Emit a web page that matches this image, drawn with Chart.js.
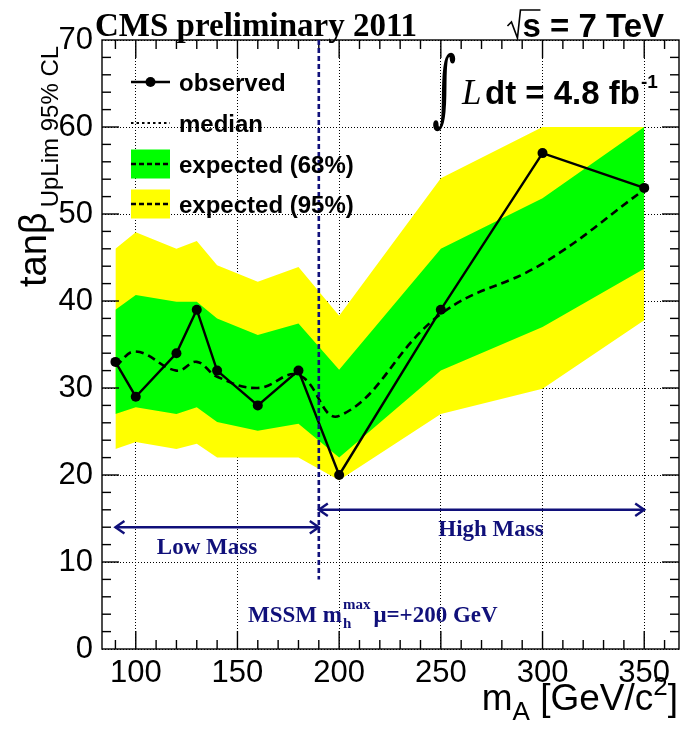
<!DOCTYPE html>
<html><head><meta charset="utf-8">
<script src="https://cdn.jsdelivr.net/npm/chart.js@4.4.1/dist/chart.umd.min.js"></script>
<style>html,body{margin:0;padding:0;background:#fff;overflow:hidden}#wrap{width:684px;height:734px;position:relative}</style>
</head><body><div id="wrap"><canvas id="c"></canvas></div>
<script>
// ---- data ----
const masses       = [90, 100, 120, 130, 140, 160, 180, 200, 250, 300, 350];
const observed     = [33, 29, 34, 39, 32, 28, 32, 20, 39, 57, 53];
const median       = [32.5, 34.2, 32.0, 33.0, 31.3, 30.0, 31.5, 26.8, 38.5, 44.3, 52.8];
const band68Upper  = [39.0, 40.7, 39.9, 39.9, 38.0, 36.1, 37.4, 32.1, 46.0, 51.8, 60.0];
const band68Lower  = [27.0, 27.8, 27.0, 27.8, 26.1, 25.1, 25.9, 22.0, 32.0, 37.0, 43.7];
const band95Upper  = [46.0, 47.9, 46.0, 46.9, 44.1, 42.2, 43.9, 38.3, 54.1, 60.0, 60.0];
const band95Lower  = [23.0, 23.8, 23.0, 23.6, 22.0, 22.0, 22.0, 19.4, 27.0, 29.9, 37.8];
const xTickValues  = [100, 150, 200, 250, 300, 350];
const yTickValues  = [0, 10, 20, 30, 40, 50, 60, 70];
const xRange       = [83.4, 367.1];
const yRange       = [0, 70];
const legendLabels = ['observed', 'median', 'expected (68%)', 'expected (95%)'];
const splitMass    = 190;      // low/high mass boundary
const splitLineTop = 70, splitLineBottom = 8;
const lowMassRange = [90, 190], lowMassArrowY = 14;
const highMassRange = [190, 350], highMassArrowY = 16;

const pts = arr => masses.map((m, i) => ({x: m, y: arr[i]}));
const NAVY = '#10107a';

const datasets = [
  {label:'95 hi', data: pts(band95Upper), fill:{target:1}, backgroundColor:'#ffff00', borderWidth:0, pointRadius:0, order:4},
  {label:'95 lo', data: pts(band95Lower), fill:false, borderWidth:0, pointRadius:0, order:4},
  {label:'68 hi', data: pts(band68Upper), fill:{target:3}, backgroundColor:'#00ff00', borderWidth:0, pointRadius:0, order:3},
  {label:'68 lo', data: pts(band68Lower), fill:false, borderWidth:0, pointRadius:0, order:3},
  {label:'median', data: pts(median), borderColor:'#000', borderWidth:2.6, borderDash:[8,5], pointRadius:0, tension:0.42, fill:false, order:2},
  {label:'observed', data: pts(observed), borderColor:'#000', backgroundColor:'#000', borderWidth:2.4, pointRadius:5, pointBorderWidth:0, tension:0, fill:false, order:1}
];

function line(ctx, x1, y1, x2, y2){ ctx.beginPath(); ctx.moveTo(x1,y1); ctx.lineTo(x2,y2); ctx.stroke(); }

const framePlugin = {
  id:'frame',
  afterDatasetsDraw(chart){
    const {ctx, chartArea:a, scales:{x, y}} = chart;
    ctx.save();
    ctx.strokeStyle = '#000'; ctx.lineWidth = 1.4; ctx.setLineDash([]);
    ctx.strokeRect(a.left, a.top, a.right - a.left, a.bottom - a.top);
    for (let v = 90; v <= x.max; v += 10) {
      const px = x.getPixelForValue(v);
      const L = v % 50 === 0 ? 18 : 9;
      line(ctx, px, a.bottom, px, a.bottom - L);
      line(ctx, px, a.top, px, a.top + L);
    }
    for (let v = 2; v < y.max; v += 2) {
      const py = y.getPixelForValue(v);
      const L = v % 10 === 0 ? 17 : 9;
      line(ctx, a.left, py, a.left + L, py);
      line(ctx, a.right, py, a.right - L, py);
    }
    ctx.restore();
  }
};

const overlayPlugin = {
  id:'overlay',
  afterDatasetsDraw(chart){
    const {ctx, scales:{x, y}} = chart;
    ctx.save();
    ctx.strokeStyle = NAVY; ctx.lineWidth = 2.6; ctx.setLineDash([5,3]);
    const sx = x.getPixelForValue(splitMass);
    line(ctx, sx, y.getPixelForValue(splitLineTop), sx, y.getPixelForValue(splitLineBottom));
    ctx.setLineDash([]);
    function arrow(x1v, x2v, yv){
      const x1 = x.getPixelForValue(x1v), x2 = x.getPixelForValue(x2v), py = y.getPixelForValue(yv);
      ctx.lineWidth = 2.4;
      line(ctx, x1, py, x2, py);
      const h = 9;
      ctx.beginPath(); ctx.moveTo(x1 + h, py - h*0.7); ctx.lineTo(x1, py); ctx.lineTo(x1 + h, py + h*0.7); ctx.stroke();
      ctx.beginPath(); ctx.moveTo(x2 - h, py - h*0.7); ctx.lineTo(x2, py); ctx.lineTo(x2 - h, py + h*0.7); ctx.stroke();
    }
    arrow(lowMassRange[0], lowMassRange[1], lowMassArrowY);
    arrow(highMassRange[0], highMassRange[1], highMassArrowY);
    ctx.fillStyle = NAVY;
    ctx.font = 'bold 23px "Liberation Serif"';
    ctx.textAlign = 'center'; ctx.textBaseline = 'alphabetic';
    ctx.fillText('Low Mass', 207, 554);
    ctx.fillText('High Mass', 491, 536);
    ctx.textAlign = 'left';
    let cx = 248; const by = 622;
    ctx.font = 'bold 23px "Liberation Serif"';
    ctx.fillText('MSSM m', cx, by); cx += ctx.measureText('MSSM m').width;
    ctx.font = 'bold 15px "Liberation Serif"';
    ctx.fillText('h', cx + 1, by + 6);
    ctx.fillText('max', cx + 1, by - 13);
    cx += ctx.measureText('max').width + 4;
    ctx.font = 'bold 23px "Liberation Serif"';
    ctx.fillText('\u03bc=+200 GeV', cx, by);
    ctx.restore();
  }
};

const textPlugin = {
  id:'texts',
  afterDraw(chart){
    const {ctx} = chart;
    ctx.save();
    ctx.fillStyle = '#000'; ctx.strokeStyle = '#000'; ctx.textBaseline = 'alphabetic';
    ctx.textAlign = 'left';
    ctx.font = 'bold 33px "Liberation Serif"';
    ctx.fillText('CMS preliminary 2011', 95, 36);
    ctx.font = 'bold 33px "Liberation Sans"';
    ctx.textAlign = 'right';
    ctx.fillText('s = 7 TeV', 664, 37);
    const sw = ctx.measureText('s = 7 TeV').width;
    const sStart = 664 - sw;
    ctx.lineWidth = 1.6;
    ctx.beginPath();
    ctx.moveTo(sStart - 15, 26); ctx.lineTo(sStart - 11, 22); ctx.lineTo(sStart - 5, 38); ctx.lineTo(sStart - 2, 10); ctx.lineTo(sStart + 18, 10);
    ctx.stroke();
    ctx.textAlign = 'left';
    ctx.save();
    ctx.translate(432, 116); ctx.scale(0.75, 1.35);
    ctx.font = '62px "DejaVu Serif"';
    ctx.fillText('\u222b', 0, 0);
    ctx.restore();
    ctx.font = 'italic 35px "Liberation Serif"';
    ctx.fillText('L', 462, 104);
    ctx.font = 'bold 33px "Liberation Sans"';
    ctx.fillText('dt = 4.8 fb', 485, 104);
    const lw = ctx.measureText('dt = 4.8 fb').width;
    ctx.font = 'bold 19px "Liberation Sans"';
    ctx.fillText('-1', 485 + lw + 1, 88);
    const lx1 = 131, lx2 = 170, tx = 179;
    const ly = [82, 123, 164, 204];
    ctx.font = 'bold 24px "Liberation Sans"';
    ctx.lineWidth = 2.6;
    line(ctx, lx1, ly[0], lx2, ly[0]);
    ctx.beginPath(); ctx.arc((lx1+lx2)/2, ly[0], 5, 0, Math.PI*2); ctx.fill();
    ctx.setLineDash([2.5,3]); ctx.lineWidth = 2;
    line(ctx, lx1, ly[1], lx2, ly[1]);
    ctx.setLineDash([]);
    ctx.fillStyle = '#00ff00'; ctx.fillRect(lx1, ly[2]-14.5, lx2-lx1, 29);
    ctx.fillStyle = '#ffff00'; ctx.fillRect(lx1, ly[3]-14.5, lx2-lx1, 29);
    ctx.fillStyle = '#000';
    ctx.setLineDash([5,3]); ctx.lineWidth = 2.6;
    line(ctx, lx1, ly[2], lx2, ly[2]);
    line(ctx, lx1, ly[3], lx2, ly[3]);
    ctx.setLineDash([]);
    legendLabels.forEach((t, i) => ctx.fillText(t, tx, ly[i] + 8.5));
    ctx.save();
    ctx.translate(46, 287); ctx.rotate(-Math.PI/2);
    ctx.font = '38px "Liberation Sans"';
    ctx.fillText('tan\u03b2', 0, 0);
    const tw = ctx.measureText('tan\u03b2').width;
    ctx.font = '24px "Liberation Sans"';
    ctx.fillText('UpLim 95% CL', tw + 5, 12);
    ctx.restore();
    ctx.textAlign = 'left';
    const parts = [['m', 37, 0], ['A', 26, 10], [' [GeV/c', 37, 0], ['2', 26, -15], [']', 37, 0]];
    let total = 0;
    parts.forEach(p => { ctx.font = p[1] + 'px "Liberation Sans"'; total += ctx.measureText(p[0]).width; });
    let cx = 678 - total;
    parts.forEach(p => { ctx.font = p[1] + 'px "Liberation Sans"'; ctx.fillText(p[0], cx, 710 + p[2]); cx += ctx.measureText(p[0]).width; });
    ctx.restore();
  }
};

new Chart(document.getElementById('c'), {
  type:'line',
  data:{datasets},
  plugins:[framePlugin, overlayPlugin, textPlugin],
  options:{
    responsive:true, maintainAspectRatio:false, animation:false,
    layout:{padding:{left:0, right:1, top:40, bottom:0}},
    plugins:{legend:{display:false}, tooltip:{enabled:false}},
    scales:{
      x:{type:'linear', min:xRange[0], max:xRange[1],
         afterBuildTicks(s){ s.ticks = xTickValues.map(v => ({value:v})); },
         afterFit(s){ s.height = 85; s.paddingLeft = 0; s.paddingRight = 0; },
         grid:{color:'#000', lineWidth:1, drawTicks:false},
         border:{display:false, dash:[1,2]},
         ticks:{font:{family:'Liberation Sans', size:31}, color:'#000', padding:6, maxRotation:0, autoSkip:false}
      },
      y:{type:'linear', min:yRange[0], max:yRange[1],
         afterBuildTicks(s){ s.ticks = yTickValues.map(v => ({value:v})); },
         afterFit(s){ s.width = 102; s.paddingTop = 0; s.paddingBottom = 0; },
         grid:{color:'#000', lineWidth:1, drawTicks:false},
         border:{display:false, dash:[1,2]},
         ticks:{font:{family:'Liberation Sans', size:31}, color:'#000', padding:9, autoSkip:false}
      }
    }
  }
});
</script></body></html>
